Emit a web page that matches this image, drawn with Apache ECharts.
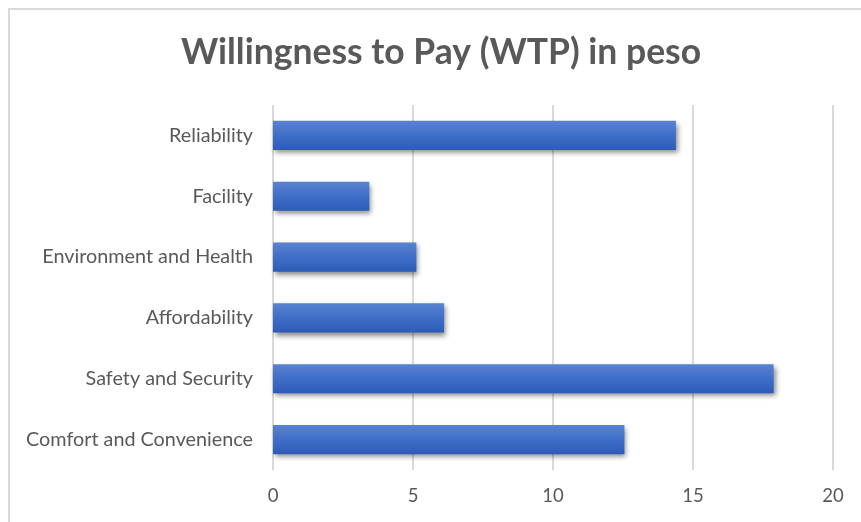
<!DOCTYPE html>
<html>
<head>
<meta charset="utf-8">
<script src="https://cdn.jsdelivr.net/npm/echarts@6/dist/echarts.min.js"></script>
<style>
  html, body { margin: 0; padding: 0; background: #ffffff; }
  #chart { width: 861px; height: 522px; }
</style>
</head>
<body>
<div id="chart"></div>
<script>
// Willingness to pay per service attribute (peso)
const categories = [
  'Comfort and Convenience',
  'Safety and Security',
  'Affordability',
  'Environment and Health',
  'Facility',
  'Reliability'
];
const wtpValues = [12.55, 17.88, 6.11, 5.12, 3.44, 14.39];
const tickValues = [0, 5, 10, 15, 20];

const chart = echarts.init(document.getElementById('chart'));

const barFill = new echarts.graphic.LinearGradient(0, 0, 0, 1, [
  { offset: 0, color: '#5a83d1' },
  { offset: 0.5, color: '#3f6ec8' },
  { offset: 1, color: '#2d5cb8' }
]);

chart.setOption({
  animation: false,
  backgroundColor: '#ffffff',
  graphic: [{
    type: 'rect',
    shape: { x: 9, y: 9, width: 900, height: 600 },
    style: { fill: 'none', stroke: '#d9d9d9', lineWidth: 2 },
    silent: true
  }],
  title: {
    text: 'Willingness to Pay (WTP) in peso',
    left: 436,
    textAlign: 'center',
    top: 30,
    textStyle: {
      fontFamily: 'Lato',
      fontSize: 35.5,
      fontWeight: 'bold',
      color: '#595959'
    }
  },
  grid: { left: 273, right: 28, top: 105, bottom: 52, containLabel: false },
  xAxis: {
    type: 'value',
    min: tickValues[0],
    max: tickValues[tickValues.length - 1],
    interval: 5,
    axisLine: { show: false },
    axisTick: { show: false },
    splitLine: { show: true, lineStyle: { color: '#d9d9d9', width: 2 } },
    axisLabel: {
      margin: 17,
      fontFamily: 'Lato',
      fontSize: 18.5,
      color: '#595959'
    }
  },
  yAxis: {
    type: 'category',
    data: categories,
    axisLine: { show: false },
    axisTick: { show: false },
    axisLabel: {
      margin: 20,
      fontFamily: 'Lato',
      fontSize: 19.8,
      color: '#595959'
    }
  },
  series: [{
    type: 'bar',
    data: wtpValues,
    barCategoryGap: '52%',
    itemStyle: {
      color: barFill,
      shadowColor: 'rgba(0,0,0,0.45)',
      shadowBlur: 5,
      shadowOffsetX: 2,
      shadowOffsetY: 3
    }
  }]
});
</script>
</body>
</html>
